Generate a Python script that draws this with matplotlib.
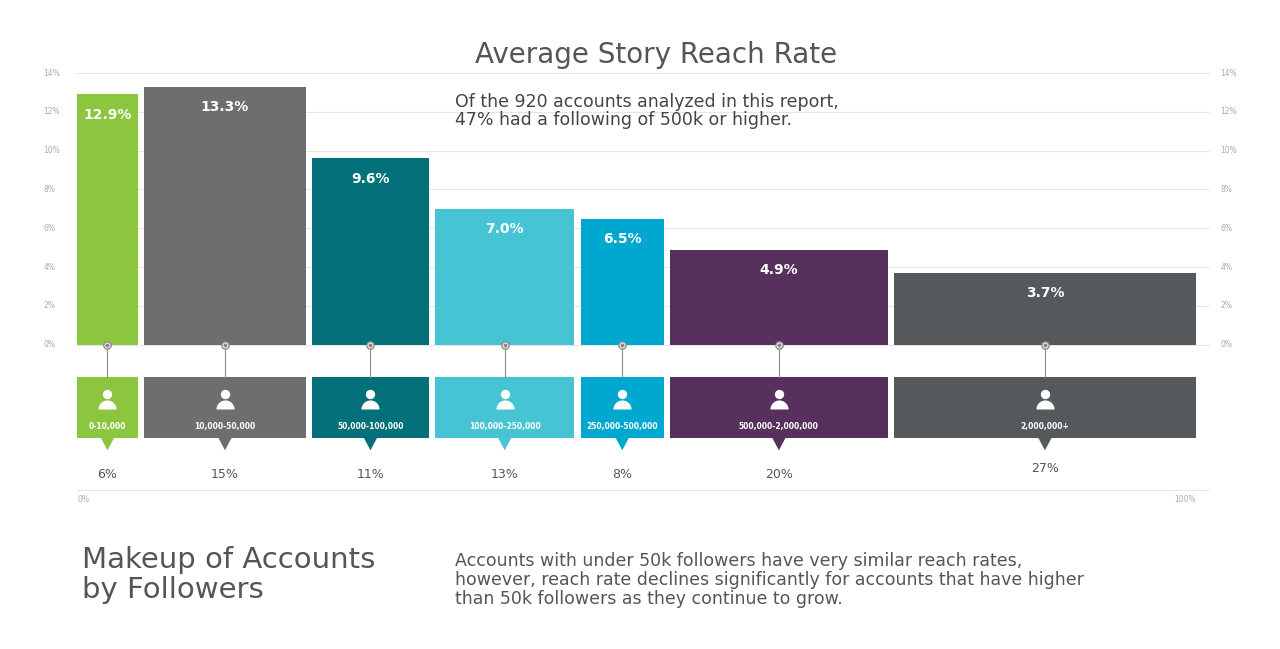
import matplotlib.pyplot as plt
import numpy as np
from matplotlib.path import Path

# data
groups = ['0-10,000', '10,000-50,000', '50,000-100,000', '100,000-250,000',
          '250,000-500,000', '500,000-2,000,000', '2,000,000+']
share = [6, 15, 11, 13, 8, 20, 27]
reach = [12.9, 13.3, 9.6, 7.0, 6.5, 4.9, 3.7]
colors = ['#8cc63f', '#6d6e70', '#03707a', '#47c4d4', '#00a8cf', '#57305d', '#55595b']
yticks = [0, 2, 4, 6, 8, 10, 12, 14]

W, H = 1280, 649
fig = plt.figure(figsize=(12.8, 6.49), dpi=100)
fig.patch.set_facecolor('white')
# axis: x 0..100 -> px 77..1196, y -8..14 -> px 500..73
ax = fig.add_axes([77 / W, (H - 500) / H, (1196 - 77) / W, (500 - 73) / H])
ax.set_xlim(0, 100)
ax.set_ylim(-8, 14)
ax.axis('off')

gap = 0.55
left = np.concatenate([[0], np.cumsum(share)[:-1]])
widths = np.array(share) - gap
widths[-1] = share[-1]

for y in yticks:
    ax.plot([0, 101.2], [y, y], color='#e6e6e6', lw=0.8, clip_on=False, zorder=0)
    ax.text(-3, y, f'{y}%', fontsize=5.5, color='#aaaaaa', va='center', ha='left')
    ax.text(102.2, y, f'{y}%', fontsize=5.5, color='#aaaaaa', va='center', ha='left')

ax.bar(left, reach, width=widths, align='edge', color=colors, zorder=2)

box_top, box_bot = -1.65, -4.79
ax.bar(left, box_top - box_bot, bottom=box_bot, width=widths, align='edge',
       color=colors, zorder=2)

# half-disc marker for icon body
t = np.linspace(0, np.pi, 30)
body = Path(np.column_stack([np.cos(t), np.sin(t)]).tolist() + [[1, 0]], closed=False)

for l, w, r, c, g, s in zip(left, widths, reach, colors, groups, share):
    cx = l + w / 2
    ax.text(cx, r - 1.05, f'{r:.1f}%', color='white', fontsize=10, fontweight='bold',
            ha='center', va='center', zorder=3)
    ax.plot([cx, cx], [0, box_top], color='#8a8a8a', lw=0.8, zorder=3)
    ax.scatter([cx], [0], s=28, facecolor='white', edgecolor='#8a8a8a', lw=1, zorder=4)
    ax.scatter([cx], [0], s=4, color='#8a8a8a', zorder=5)
    # pointer
    ax.fill([cx - 0.6, cx + 0.6, cx], [box_bot, box_bot, box_bot - 0.65], color=c,
            zorder=2, lw=0)
    # icon
    ax.scatter([cx], [-2.53], s=45, color='white', zorder=4, lw=0)
    ax.scatter([cx], [-3.3], s=170, marker=body, color='white', zorder=4, lw=0)
    ax.text(cx, -4.2, g, color='white', fontsize=5.5, fontweight='bold',
            ha='center', va='center', zorder=4)
    ly = -6.4 if s == 27 else -6.7
    ax.text(cx, ly, f'{s}%', color='#555555', fontsize=9, ha='center', va='center')

ax.plot([0, 101.2], [-7.46, -7.46], color='#e6e6e6', lw=0.8, clip_on=False)
ax.text(0, -8, '0%', fontsize=5.5, color='#aaaaaa', va='center', ha='left')
ax.text(100, -8, '100%', fontsize=5.5, color='#aaaaaa', va='center', ha='right')

fig.text(656 / W, 1 - 55 / H, 'Average Story Reach Rate', fontsize=20, color='#555555',
         ha='center', va='center')
fig.text(455 / W, 1 - 111 / H,
         'Of the 920 accounts analyzed in this report,\n47% had a following of 500k or higher.',
         fontsize=12.5, color='#444444', ha='left', va='center', linespacing=1.05)
fig.text(82 / W, 1 - 575 / H, 'Makeup of Accounts\nby Followers', fontsize=21,
         color='#555555', ha='left', va='center', linespacing=1.1)
fig.text(455 / W, 1 - 580 / H,
         'Accounts with under 50k followers have very similar reach rates,\n'
         'however, reach rate declines significantly for accounts that have higher\n'
         'than 50k followers as they continue to grow.',
         fontsize=12.5, color='#555555', ha='left', va='center', linespacing=1.1)

fig.savefig('out.png', dpi=100)
